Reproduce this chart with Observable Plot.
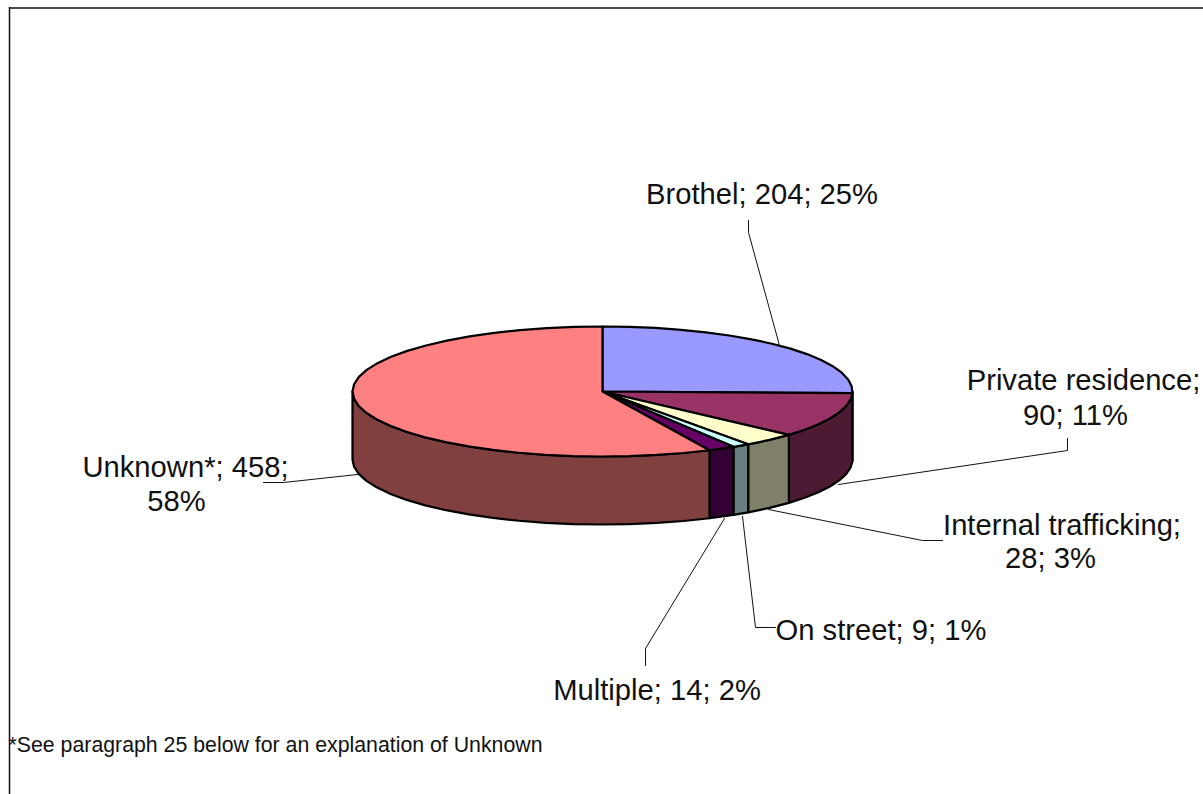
<!DOCTYPE html>
<html><head><meta charset="utf-8">
<script src="https://cdn.jsdelivr.net/npm/d3@7"></script>
<script src="https://cdn.jsdelivr.net/npm/@observablehq/plot@0.6"></script>
<style>html,body{margin:0;padding:0;background:#fff;overflow:hidden}svg{display:block}</style>
</head><body><div id="chart"></div>
<script>
// Data
const categories = ["Brothel","Private residence","Internal trafficking","On street","Multiple","Unknown*"];
const counts = [204,90,28,9,14,458];
const topColors = ["#9999FF","#993366","#FFFFCC","#CCFFFF","#660066","#FF8080"];
const sideColors = ["#4D1A33","#4D1A33","#80806A","#668080","#330033","#804040"];
const footnote = "*See paragraph 25 below for an explanation of Unknown";

// Layout of the labels and leaders, in page units
const labelLines = [
  {t:"Brothel; 204; 25%",x:761.5,y:203},
  {t:"Private residence;",x:1083,y:389},
  {t:"90; 11%",x:1075,y:424},
  {t:"Internal trafficking;",x:1061.5,y:534},
  {t:"28; 3%",x:1050,y:567},
  {t:"On street; 9; 1%",x:880.5,y:639},
  {t:"Multiple; 14; 2%",x:656.5,y:699},
  {t:"Unknown*; 458;",x:185,y:476},
  {t:"58%",x:176,y:510}
];
const leaders = [
  [[748,220],[748,232],[779,345]],
  [[1067,438],[1067,450],[838,484]],
  [[942,540],[922,540],[768,509]],
  [[775,627],[755,627],[742,516]],
  [[645,665],[645,648],[724,518]],
  [[263,482],[283,482],[357,474]]
].flatMap((pts,i)=>pts.map(([x,y])=>({i,x,y})));

const W=1203,H=794;
const cx=602,cy=391,rx=250,ry=65,depth=68;
const TAU=Math.PI*2;
const arcs=d3.pie().sort(null).startAngle(0).endAngle(TAU)(counts);
const pt=(a,dy=0)=>({x:cx+rx*Math.sin(a),y:cy-ry*Math.cos(a)+dy});
const arcPts=(a0,a1,dy=0)=>{
  const n=Math.max(1,Math.ceil((a1-a0)/(TAU/56)));
  return d3.range(n+1).map(k=>pt(a0+(a1-a0)*k/n,dy));
};
const tops=arcs.flatMap((a,i)=>{
  const key=categories[i];
  const c={x:cx,y:cy};
  return [c,...arcPts(a.startAngle,a.endAngle),c].map(p=>({...p,key}));
});
const walls=arcs.flatMap((a,i)=>{
  const a0=Math.max(a.startAngle,TAU/4),a1=Math.min(a.endAngle,TAU*3/4);
  if(a1<=a0) return [];
  const key=categories[i]+" side";
  const up=arcPts(a0,a1),down=arcPts(a0,a1,depth).reverse();
  return [...up,...down,up[0]].map(p=>({...p,key}));
});

const plot=Plot.plot({
  width:W,height:H,margin:0,
  x:{domain:[0,W],range:[0,W],axis:null},
  y:{domain:[0,H],range:[0,H],axis:null},
  color:{domain:[...categories,...categories.map(c=>c+" side")],range:[...topColors,...sideColors]},
  marks:[
    Plot.ruleY([7.5],{x1:9,x2:W,stroke:"#111",strokeWidth:1.5}),
    Plot.ruleX([9],{y1:7,y2:H,stroke:"#111",strokeWidth:1.5}),
    Plot.line(walls,{x:"x",y:"y",z:"key",fill:"key",stroke:"black",strokeWidth:2.2,curve:"linear",strokeLinejoin:"round"}),
    Plot.line(tops,{x:"x",y:"y",z:"key",fill:"key",stroke:"black",strokeWidth:2.2,curve:"linear",strokeLinejoin:"round"}),
    Plot.line(leaders,{x:"x",y:"y",z:"i",stroke:"#111",strokeWidth:1}),
    Plot.text(labelLines,{x:"x",y:"y",text:"t",textAnchor:"middle",lineAnchor:"bottom",fontSize:29.2,fontFamily:"Liberation Sans",fill:"#111"}),
    Plot.text([footnote],{x:8,y:751,text:d=>d,textAnchor:"start",lineAnchor:"bottom",fontSize:21.3,fontFamily:"Liberation Sans",fill:"#111"})
  ]
});
document.getElementById("chart").append(plot);
</script></body></html>
